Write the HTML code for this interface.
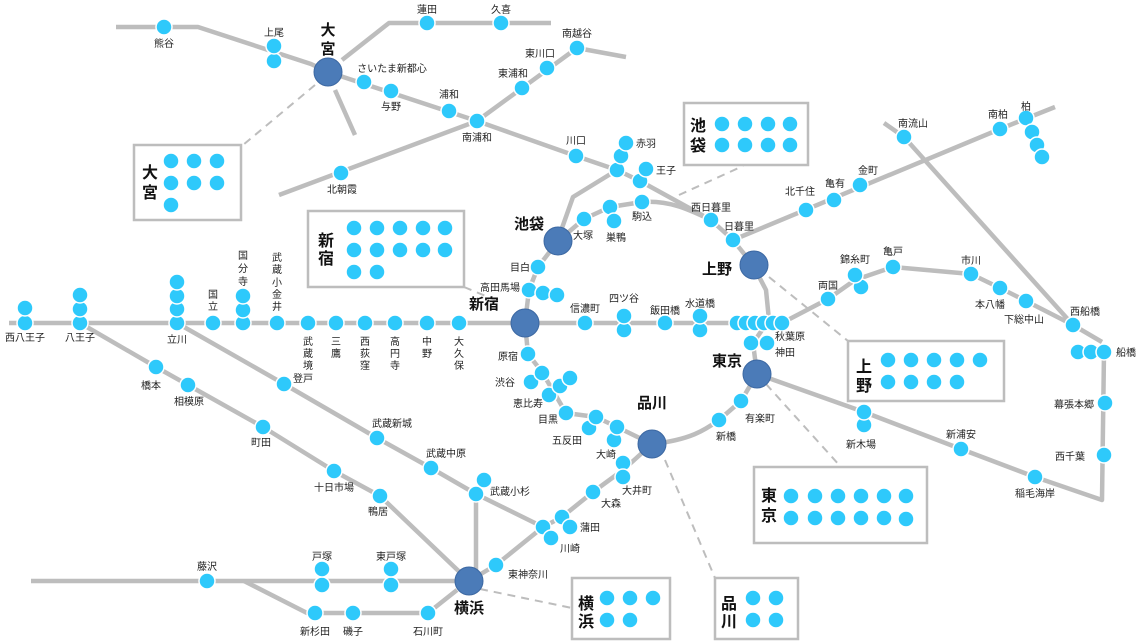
<!DOCTYPE html>
<html><head><meta charset="utf-8"><style>
html,body{margin:0;padding:0;background:#fff}
svg{display:block}
text{font-family:"Liberation Sans","Noto Sans CJK JP",sans-serif;font-size:10px;fill:#222;text-anchor:middle}
.h{font-size:15px;font-weight:bold;fill:#111}
.b{font-size:16px;font-weight:bold;fill:#111}
.l{stroke:#bdbdbd;stroke-width:4.5;fill:none;stroke-linejoin:round}
.d{stroke:#bdbdbd;stroke-width:2;fill:none;stroke-dasharray:8 6}
.s circle{fill:#2ec9fb;stroke:#fff;stroke-width:1.5}
.hub{fill:#4b7bb8;stroke:#3c68a2;stroke-width:1}
.box{fill:#fff;stroke:#bdbdbd;stroke-width:2.5}
</style></head><body>
<svg width="1140" height="642" viewBox="0 0 1140 642" xmlns="http://www.w3.org/2000/svg">
<!-- dashed connectors -->
<path class="d" d="M315,85 L243,145"/>
<path class="d" d="M464,287 L500,302"/>
<path class="d" d="M679,195 L743,166"/>
<path class="d" d="M769,277 L848,341"/>
<path class="d" d="M766,384 L841,467"/>
<path class="d" d="M665,460 L715,578"/>
<path class="d" d="M480,589 L572,608"/>
<!-- lines -->
<path class="l" d="M116,27 L198,27 L311,64 L328,72"/>
<path class="l" d="M342,60 L389,23 L551,23"/>
<path class="l" d="M335,90 L355,135"/>
<path class="l" d="M328,72 L477,121 L576,156 L617,170 L640,181 L711,220 L733,240 L753,265"/>
<path class="l" d="M279,195 L477,121 L577,48 L626,57"/>
<path class="l" d="M617,170 L573,197 L562,228 L558,241"/>
<path class="l" d="M558,241 L584,219 L610,207 L642,202 C670,200 690,210 711,220"/>
<path class="l" d="M733,240 L1000,129 L1055,107"/>
<path class="l" d="M884,123 L904,137 L1073,325"/>
<path class="l" d="M753,265 L766,290 L769,320"/>
<path class="l" d="M9,323 L737,323"/>
<path class="l" d="M782,323 L828,299 L855,280 L893,267 L971,274 L1000,288 L1026,301 L1073,325 L1102,342"/>
<path class="l" d="M1104,352 L1102,500 L1035,477 L961,449 L864,412 L757,374"/>
<path class="l" d="M558,241 L538,267 L529,290 L525,323 L528,354 L542,372 L566,413 L596,417 L617,427 L652,444"/>
<path class="l" d="M652,444 C690,440 705,430 719,420 L741,401 L757,374 L753,343 L769,320"/>
<path class="l" d="M652,444 L623,470 L593,492 L562,517 L543,527 L496,565 L469,581"/>
<path class="l" d="M80,323 L156,367 L188,385 L263,427 L334,471 L380,496 L469,581"/>
<path class="l" d="M177,323 L284,384 L377,438 L431,468 L476,494 L543,527"/>
<path class="l" d="M476,494 L476,570"/>
<path class="l" d="M31,581 L455,581"/>
<path class="l" d="M244,581 L307,613 L428,613 L457,590"/>
<!-- boxes -->
<rect class="box" x="134" y="145" width="107" height="75"/>
<rect class="box" x="308" y="211" width="156" height="76"/>
<rect class="box" x="684" y="103" width="124" height="62"/>
<rect class="box" x="848" y="341" width="156" height="60"/>
<rect class="box" x="754" y="467" width="173" height="76"/>
<rect class="box" x="572" y="578" width="98" height="61"/>
<rect class="box" x="715" y="578" width="83" height="61"/>
<!-- stations -->
<g class="s">
<circle cx="164" cy="27" r="8"/>
<circle cx="274" cy="61" r="8"/><circle cx="274" cy="46" r="8"/>
<circle cx="427" cy="23" r="8"/><circle cx="501" cy="23" r="8"/>
<circle cx="364" cy="82" r="8"/><circle cx="391" cy="91" r="8"/><circle cx="449" cy="111" r="8"/><circle cx="477" cy="121" r="8"/>
<circle cx="341" cy="173" r="8"/>
<circle cx="522" cy="88" r="8"/><circle cx="547" cy="68" r="8"/><circle cx="577" cy="48" r="8"/>
<circle cx="576" cy="156" r="8"/>
<circle cx="617" cy="170" r="8"/><circle cx="621" cy="156" r="8"/><circle cx="626" cy="143" r="8"/>
<circle cx="640" cy="181" r="8"/><circle cx="646" cy="169" r="8"/>
<circle cx="584" cy="219" r="8"/><circle cx="610" cy="207" r="8"/><circle cx="614" cy="221" r="8"/><circle cx="642" cy="202" r="8"/>
<circle cx="711" cy="220" r="8"/><circle cx="733" cy="240" r="8"/>
<circle cx="806" cy="210" r="8"/><circle cx="834" cy="200" r="8"/><circle cx="860" cy="185" r="8"/>
<circle cx="1000" cy="129" r="8"/><circle cx="1026" cy="118" r="8"/><circle cx="1032" cy="132" r="8"/><circle cx="1037" cy="145" r="8"/><circle cx="1042" cy="157" r="8"/>
<circle cx="904" cy="137" r="8"/>
<circle cx="828" cy="299" r="8"/><circle cx="861" cy="287" r="8"/><circle cx="855" cy="275" r="8"/><circle cx="893" cy="267" r="8"/>
<circle cx="971" cy="274" r="8"/><circle cx="1000" cy="288" r="8"/><circle cx="1026" cy="301" r="8"/><circle cx="1073" cy="325" r="8"/>
<circle cx="1078" cy="352" r="8"/><circle cx="1091" cy="352" r="8"/><circle cx="1104" cy="352" r="8"/>
<circle cx="1105" cy="403" r="8"/><circle cx="1104" cy="455" r="8"/>
<circle cx="1035" cy="477" r="8"/><circle cx="961" cy="449" r="8"/><circle cx="864" cy="425" r="8"/><circle cx="864" cy="412" r="8"/>
<circle cx="25" cy="323" r="8"/><circle cx="25" cy="308" r="8"/>
<circle cx="80" cy="323" r="8"/><circle cx="80" cy="309" r="8"/><circle cx="80" cy="295" r="8"/>
<circle cx="177" cy="323" r="8"/><circle cx="177" cy="309" r="8"/><circle cx="177" cy="296" r="8"/><circle cx="177" cy="282" r="8"/>
<circle cx="213" cy="323" r="8"/>
<circle cx="243" cy="323" r="8"/><circle cx="243" cy="310" r="8"/><circle cx="243" cy="296" r="8"/>
<circle cx="277" cy="323" r="8"/><circle cx="308" cy="323" r="8"/><circle cx="336" cy="323" r="8"/><circle cx="365" cy="323" r="8"/><circle cx="395" cy="323" r="8"/><circle cx="427" cy="323" r="8"/><circle cx="459" cy="323" r="8"/>
<circle cx="585" cy="323" r="8"/><circle cx="624" cy="330" r="8"/><circle cx="624" cy="316" r="8"/><circle cx="665" cy="323" r="8"/><circle cx="700" cy="330" r="8"/><circle cx="700" cy="316" r="8"/>
<circle cx="737" cy="323" r="8"/><circle cx="746" cy="323" r="8"/><circle cx="755" cy="323" r="8"/><circle cx="764" cy="323" r="8"/><circle cx="773" cy="323" r="8"/><circle cx="782" cy="323" r="8"/>
<circle cx="751" cy="343" r="8"/><circle cx="767" cy="343" r="8"/>
<circle cx="538" cy="267" r="8"/><circle cx="529" cy="290" r="8"/><circle cx="543" cy="293" r="8"/><circle cx="557" cy="295" r="8"/>
<circle cx="528" cy="354" r="8"/><circle cx="531" cy="382" r="8"/><circle cx="542" cy="373" r="8"/>
<circle cx="549" cy="395" r="8"/><circle cx="560" cy="386" r="8"/><circle cx="570" cy="378" r="8"/>
<circle cx="566" cy="413" r="8"/><circle cx="589" cy="428" r="8"/><circle cx="596" cy="417" r="8"/>
<circle cx="614" cy="440" r="8"/><circle cx="617" cy="427" r="8"/>
<circle cx="623" cy="463" r="8"/><circle cx="623" cy="477" r="8"/><circle cx="593" cy="492" r="8"/>
<circle cx="562" cy="517" r="8"/><circle cx="570" cy="527" r="8"/><circle cx="543" cy="527" r="8"/><circle cx="551" cy="538" r="8"/>
<circle cx="496" cy="565" r="8"/>
<circle cx="719" cy="420" r="8"/><circle cx="741" cy="401" r="8"/>
<circle cx="156" cy="367" r="8"/><circle cx="188" cy="385" r="8"/><circle cx="263" cy="427" r="8"/><circle cx="334" cy="471" r="8"/><circle cx="380" cy="496" r="8"/>
<circle cx="284" cy="384" r="8"/><circle cx="377" cy="438" r="8"/><circle cx="431" cy="468" r="8"/><circle cx="484" cy="480" r="8"/><circle cx="476" cy="494" r="8"/>
<circle cx="207" cy="581" r="8"/><circle cx="322" cy="585" r="8"/><circle cx="322" cy="569" r="8"/><circle cx="391" cy="585" r="8"/><circle cx="391" cy="569" r="8"/>
<circle cx="315" cy="613" r="8"/><circle cx="353" cy="613" r="8"/><circle cx="428" cy="613" r="8"/>
<!-- box dots -->
<circle cx="171" cy="161" r="8"/><circle cx="194" cy="161" r="8"/><circle cx="217" cy="161" r="8"/><circle cx="171" cy="183" r="8"/><circle cx="194" cy="183" r="8"/><circle cx="217" cy="183" r="8"/><circle cx="171" cy="205" r="8"/>
<circle cx="354" cy="228" r="8"/><circle cx="377" cy="228" r="8"/><circle cx="400" cy="228" r="8"/><circle cx="423" cy="228" r="8"/><circle cx="445" cy="228" r="8"/>
<circle cx="354" cy="250" r="8"/><circle cx="377" cy="250" r="8"/><circle cx="400" cy="250" r="8"/><circle cx="423" cy="250" r="8"/><circle cx="445" cy="250" r="8"/>
<circle cx="354" cy="272" r="8"/><circle cx="377" cy="272" r="8"/>
<circle cx="722" cy="124" r="8"/><circle cx="745" cy="124" r="8"/><circle cx="768" cy="124" r="8"/><circle cx="790" cy="124" r="8"/>
<circle cx="722" cy="145" r="8"/><circle cx="745" cy="145" r="8"/><circle cx="768" cy="145" r="8"/><circle cx="790" cy="145" r="8"/>
<circle cx="888" cy="360" r="8"/><circle cx="911" cy="360" r="8"/><circle cx="934" cy="360" r="8"/><circle cx="957" cy="360" r="8"/><circle cx="980" cy="360" r="8"/>
<circle cx="888" cy="382" r="8"/><circle cx="911" cy="382" r="8"/><circle cx="934" cy="382" r="8"/><circle cx="957" cy="382" r="8"/>
<circle cx="791" cy="496" r="8"/><circle cx="815" cy="496" r="8"/><circle cx="838" cy="496" r="8"/><circle cx="861" cy="496" r="8"/><circle cx="884" cy="496" r="8"/><circle cx="906" cy="496" r="8"/>
<circle cx="791" cy="518" r="8"/><circle cx="815" cy="518" r="8"/><circle cx="838" cy="518" r="8"/><circle cx="861" cy="518" r="8"/><circle cx="884" cy="518" r="8"/><circle cx="906" cy="519" r="8"/>
<circle cx="607" cy="598" r="8"/><circle cx="630" cy="598" r="8"/><circle cx="653" cy="598" r="8"/><circle cx="607" cy="620" r="8"/><circle cx="630" cy="620" r="8"/>
<circle cx="753" cy="598" r="8"/><circle cx="776" cy="598" r="8"/><circle cx="753" cy="620" r="8"/><circle cx="776" cy="620" r="8"/>
</g>
<!-- hubs -->
<circle class="hub" cx="328" cy="72" r="14"/>
<circle class="hub" cx="558" cy="241" r="14"/>
<circle class="hub" cx="754" cy="265" r="14"/>
<circle class="hub" cx="525" cy="323" r="14"/>
<circle class="hub" cx="757" cy="374" r="14"/>
<circle class="hub" cx="652" cy="444" r="14"/>
<circle class="hub" cx="469" cy="581" r="14"/>
<!-- hub labels -->
<text class="h" x="328" y="35">大</text><text class="h" x="328" y="54">宮</text>
<text class="h" x="529" y="229">池袋</text>
<text class="h" x="717" y="274">上野</text>
<text class="h" x="484" y="309">新宿</text>
<text class="h" x="727" y="366">東京</text>
<text class="h" x="652" y="408">品川</text>
<text class="h" x="469" y="613">横浜</text>
<!-- box labels -->
<text class="b" x="150" y="178">大</text><text class="b" x="150" y="198">宮</text>
<text class="b" x="326" y="246">新</text><text class="b" x="326" y="264">宿</text>
<text class="b" x="698" y="131">池</text><text class="b" x="698" y="151">袋</text>
<text class="b" x="864" y="372">上</text><text class="b" x="864" y="391">野</text>
<text class="b" x="769" y="501">東</text><text class="b" x="769" y="521">京</text>
<text class="b" x="586" y="609">横</text><text class="b" x="586" y="627">浜</text>
<text class="b" x="729" y="609">品</text><text class="b" x="729" y="627">川</text>
<!-- station labels -->
<text x="164" y="47">熊谷</text>
<text x="274" y="36">上尾</text>
<text x="427" y="13">蓮田</text><text x="501" y="13">久喜</text>
<text x="392" y="72">さいたま新都心</text>
<text x="391" y="110">与野</text>
<text x="449" y="98">浦和</text>
<text x="477" y="141">南浦和</text>
<text x="342" y="193">北朝霞</text>
<text x="513" y="77">東浦和</text>
<text x="540" y="57">東川口</text>
<text x="577" y="37">南越谷</text>
<text x="576" y="144">川口</text>
<text x="646" y="147">赤羽</text>
<text x="666" y="174">王子</text>
<text x="583" y="239">大塚</text>
<text x="616" y="241">巣鴨</text>
<text x="642" y="220">駒込</text>
<text x="711" y="211">西日暮里</text>
<text x="739" y="230">日暮里</text>
<text x="800" y="195">北千住</text>
<text x="835" y="187">亀有</text>
<text x="868" y="174">金町</text>
<text x="998" y="118">南柏</text>
<text x="1026" y="110">柏</text>
<text x="913" y="127">南流山</text>
<text x="828" y="289">両国</text>
<text x="855" y="263">錦糸町</text>
<text x="893" y="255">亀戸</text>
<text x="971" y="264">市川</text>
<text x="990" y="308">本八幡</text>
<text x="1024" y="323">下総中山</text>
<text x="1085" y="315">西船橋</text>
<text x="1126" y="356">船橋</text>
<text x="1074" y="408">幕張本郷</text>
<text x="1070" y="460">西千葉</text>
<text x="1035" y="497">稲毛海岸</text>
<text x="961" y="438">新浦安</text>
<text x="861" y="448">新木場</text>
<text x="790" y="340">秋葉原</text>
<text x="785" y="356">神田</text>
<text x="760" y="422">有楽町</text>
<text x="726" y="440">新橋</text>
<text x="25" y="341">西八王子</text>
<text x="80" y="341">八王子</text>
<text x="177" y="343">立川</text>
<text x="213" y="298">国</text><text x="213" y="310">立</text>
<text x="243" y="259">国</text><text x="243" y="272">分</text><text x="243" y="285">寺</text>
<text x="277" y="261">武</text><text x="277" y="273">蔵</text><text x="277" y="286">小</text><text x="277" y="298">金</text><text x="277" y="310">井</text>
<text x="308" y="345">武</text><text x="308" y="357">蔵</text><text x="308" y="369">境</text>
<text x="336" y="345">三</text><text x="336" y="357">鷹</text>
<text x="365" y="345">西</text><text x="365" y="357">荻</text><text x="365" y="369">窪</text>
<text x="395" y="345">高</text><text x="395" y="357">円</text><text x="395" y="369">寺</text>
<text x="427" y="345">中</text><text x="427" y="357">野</text>
<text x="459" y="345">大</text><text x="459" y="357">久</text><text x="459" y="369">保</text>
<text x="585" y="312">信濃町</text>
<text x="624" y="302">四ツ谷</text>
<text x="665" y="314">飯田橋</text>
<text x="700" y="307">水道橋</text>
<text x="520" y="271">目白</text>
<text x="500" y="291">高田馬場</text>
<text x="508" y="360">原宿</text>
<text x="505" y="386">渋谷</text>
<text x="528" y="407">恵比寿</text>
<text x="548" y="423">目黒</text>
<text x="567" y="444">五反田</text>
<text x="606" y="458">大崎</text>
<text x="637" y="494">大井町</text>
<text x="611" y="507">大森</text>
<text x="590" y="531">蒲田</text>
<text x="570" y="552">川崎</text>
<text x="528" y="578">東神奈川</text>
<text x="151" y="389">橋本</text>
<text x="189" y="405">相模原</text>
<text x="261" y="446">町田</text>
<text x="334" y="491">十日市場</text>
<text x="378" y="515">鴨居</text>
<text x="303" y="382">登戸</text>
<text x="392" y="427">武蔵新城</text>
<text x="446" y="457">武蔵中原</text>
<text x="510" y="495">武蔵小杉</text>
<text x="207" y="570">藤沢</text>
<text x="322" y="560">戸塚</text>
<text x="391" y="560">東戸塚</text>
<text x="315" y="635">新杉田</text>
<text x="353" y="635">磯子</text>
<text x="428" y="635">石川町</text>
</svg>
</body></html>
